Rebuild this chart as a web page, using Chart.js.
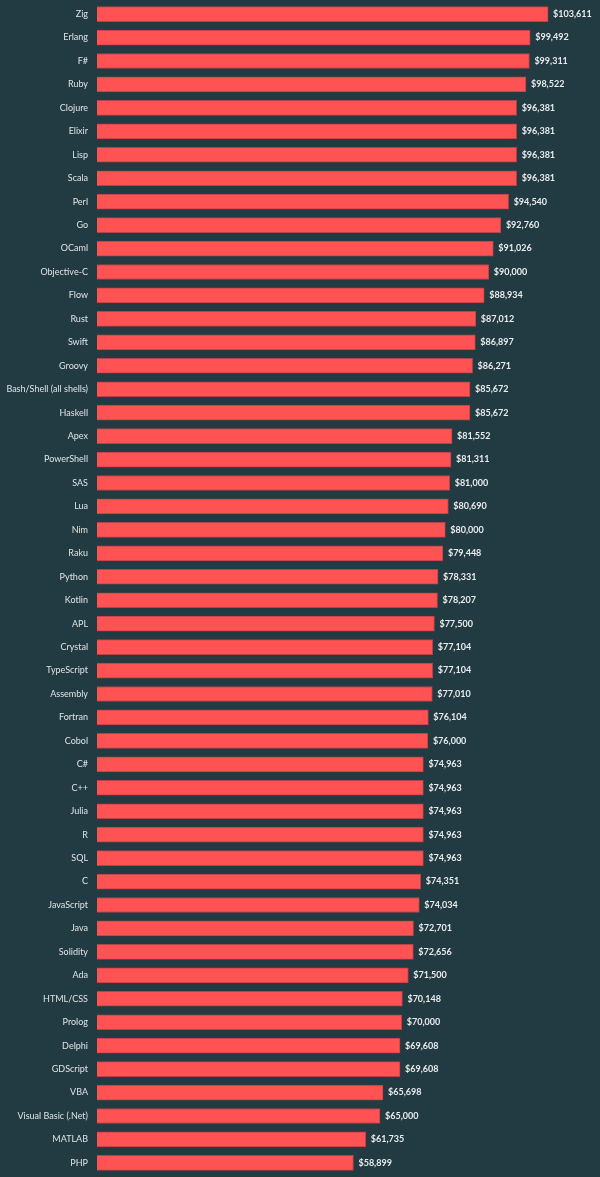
<!DOCTYPE html>
<html>
<head>
<meta charset="utf-8">
<script src="https://cdn.jsdelivr.net/npm/chart.js@4/dist/chart.umd.min.js"></script>
<style>
  html, body { margin: 0; padding: 0; background: #223a41; overflow: hidden; }
  #marco { width: 600px; height: 1177px; position: relative; overflow: hidden; }
  #wrap { width: 600px; height: 1201px; position: absolute; left: 0; top: -12px; }
</style>
</head>
<body>
<div id="marco"><div id="wrap"><canvas id="grafico"></canvas></div></div>
<script>
// lenguajes y salario medio
const lenguajes = ["Zig", "Erlang", "F#", "Ruby", "Clojure", "Elixir", "Lisp", "Scala", "Perl", "Go",
  "OCaml", "Objective-C", "Flow", "Rust", "Swift", "Groovy", "Bash/Shell (all shells)", "Haskell", "Apex", "PowerShell",
  "SAS", "Lua", "Nim", "Raku", "Python", "Kotlin", "APL", "Crystal", "TypeScript", "Assembly",
  "Fortran", "Cobol", "C#", "C++", "Julia", "R", "SQL", "C", "JavaScript", "Java",
  "Solidity", "Ada", "HTML/CSS", "Prolog", "Delphi", "GDScript", "VBA", "Visual Basic (.Net)", "MATLAB", "PHP"];

const salarios = [103611, 99492, 99311, 98522, 96381, 96381, 96381, 96381, 94540, 92760,
  91026, 90000, 88934, 87012, 86897, 86271, 85672, 85672, 81552, 81311,
  81000, 80690, 80000, 79448, 78331, 78207, 77500, 77104, 77104, 77010,
  76104, 76000, 74963, 74963, 74963, 74963, 74963, 74351, 74034, 72701,
  72656, 71500, 70148, 70000, 69608, 69608, 65698, 65000, 61735, 58899];

// etiquetas de valor al final de cada barra
const etiquetasValor = {
  id: "etiquetasValor",
  afterDatasetsDraw(chart) {
    const ctx = chart.ctx;
    const meta = chart.getDatasetMeta(0);
    ctx.save();
    ctx.font = "bold 9px Lato, sans-serif";
    ctx.fillStyle = "#e8ecec";
    ctx.textAlign = "left";
    ctx.textBaseline = "middle";
    meta.data.forEach((bar, i) => {
      ctx.fillText("$" + salarios[i].toLocaleString("en-US"), bar.x + 5, bar.y);
    });
    ctx.restore();
  }
};

const chartDOM = document.getElementById("grafico");
new Chart(chartDOM, {
  type: "bar",
  data: {
    labels: lenguajes,
    datasets: [{
      data: salarios,
      backgroundColor: "#ff5252",
      borderColor: "#b4434a",
      borderWidth: 1,
      barThickness: 15
    }]
  },
  options: {
    indexAxis: "y",
    responsive: true,
    maintainAspectRatio: false,
    animation: false,
    layout: { padding: { top: 0, bottom: 3, right: 11, left: 0 } },
    plugins: {
      legend: { display: false },
      tooltip: { enabled: false }
    },
    scales: {
      x: {
        display: false,
        min: 0,
        max: 113000
      },
      y: {
        grid: { display: false, drawTicks: false },
        border: { display: false },
        afterFit: (s) => { s.width = 97; },
        ticks: {
          color: "#dfe4e4",
          font: { size: 9, family: "Lato, sans-serif" },
          padding: 9,
          autoSkip: false
        }
      }
    }
  },
  plugins: [etiquetasValor]
});
</script>
</body>
</html>
